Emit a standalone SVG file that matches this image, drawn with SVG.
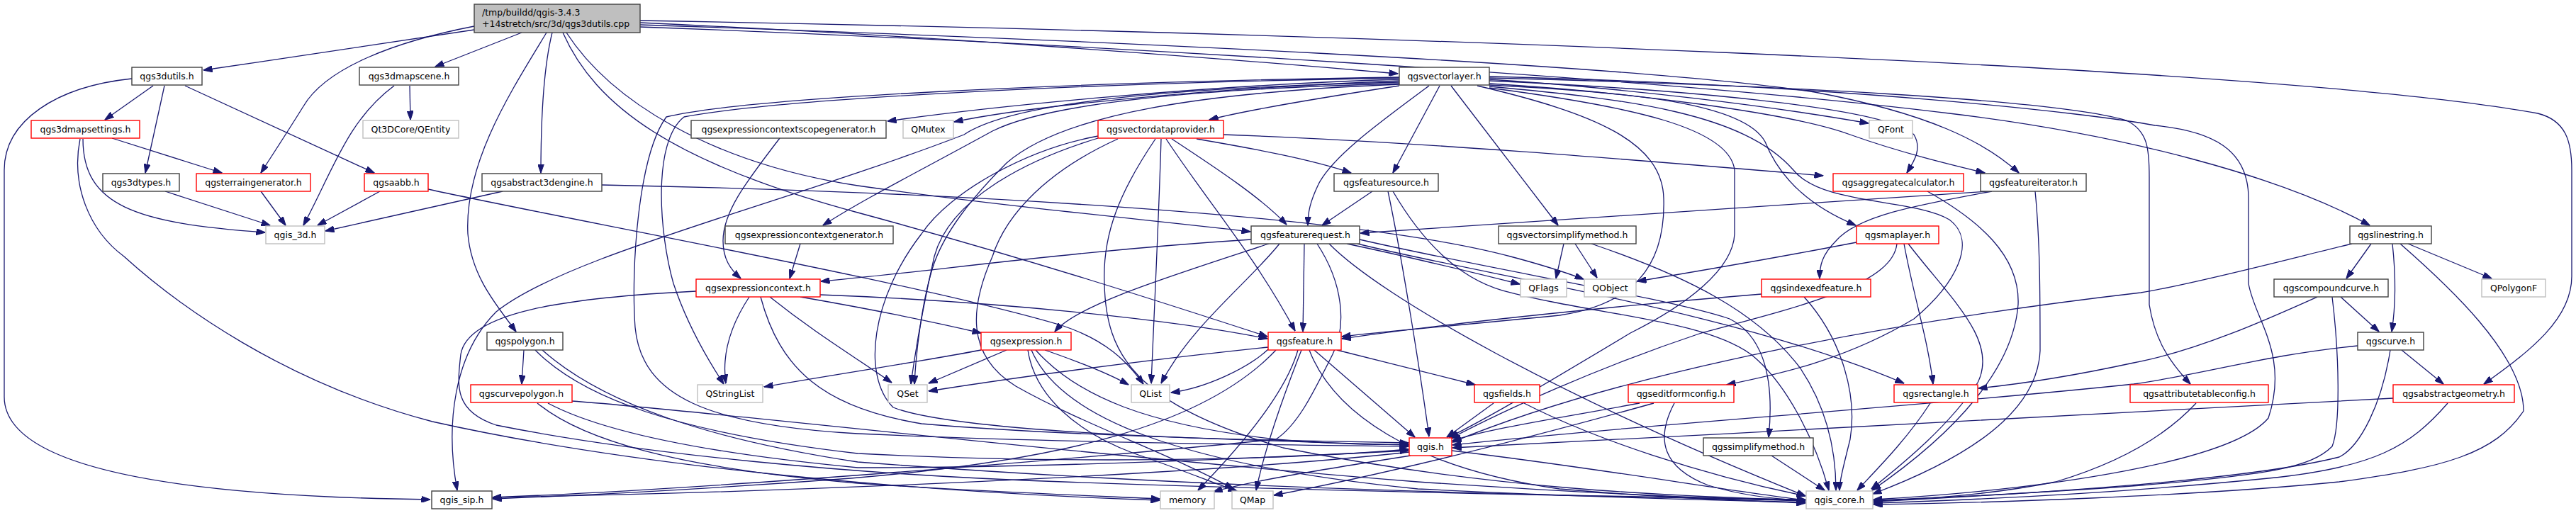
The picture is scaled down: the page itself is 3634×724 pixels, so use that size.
<svg xmlns="http://www.w3.org/2000/svg" width="3634" height="724" viewBox="0 0 3634 724">
<defs>
<marker id="ah" markerUnits="userSpaceOnUse" markerWidth="13" markerHeight="9" refX="12.5" refY="4.5" orient="auto">
<path d="M0,0 L13,4.5 L0,9 z" fill="#191970" stroke="#191970" stroke-width="1"/>
</marker>
<style>
.e{fill:none;stroke:#191970;stroke-width:1.3;marker-end:url(#ah)}
rect{stroke-width:1.4}
.b{fill:#fff;stroke:#404040}
.r{fill:#fff;stroke:#ff0000}
.g{fill:#fff;stroke:#bfbfbf}
.m{fill:#bfbfbf;stroke:#404040}
text{font-family:"DejaVu Sans","Liberation Sans",sans-serif;font-size:12.5px;fill:#000;text-anchor:middle}
text.l{text-anchor:start}
</style>
</defs>
<rect width="3634" height="724" fill="#fff"/>
<g id="edges">
<path class="e" d="M669,42 C560,58 420,80 287,99"/>
<path class="e" d="M669,37 C560,58 460,95 428,150 C400,195 382,222 368,244"/>
<path class="e" d="M736,46 L614,94"/>
<path class="e" d="M779,46 C768,90 763,160 763,244"/>
<path class="e" d="M771,46 C720,130 655,230 660,330 C665,390 700,430 728,468"/>
<path class="e" d="M799,46 C860,140 1000,230 1210,262 C1420,292 1620,310 1764,327"/>
<path class="e" d="M794,46 C840,150 950,230 1210,300 C1450,365 1650,430 1788,475"/>
<path class="e" d="M903,32 C1300,50 1700,80 1972,104"/>
<path class="e" d="M903,35 C1500,55 2300,90 2560,130 C2720,160 2800,200 2848,244"/>
<path class="e" d="M903,38 C1500,60 2350,110 2750,160 C3000,190 3220,250 3343,318"/>
<path class="e" d="M903,29 C1800,45 3200,90 3580,160 C3620,170 3628,200 3628,240 L3628,390 C3628,450 3570,495 3504,542"/>
<path class="e" d="M216,121 L148,169"/>
<path class="e" d="M232,121 L205,244"/>
<path class="e" d="M261,121 L528,244"/>
<path class="e" d="M186,111 C80,122 6,170 6,240 L6,560 C6,650 200,700 607,705"/>
<path class="e" d="M158,195 L313,244"/>
<path class="e" d="M117,196 C117,290 190,315 374,328"/>
<path class="e" d="M113,196 C100,260 125,325 175,362 C250,430 400,540 610,595 C900,660 1300,695 1636,706"/>
<path class="e" d="M233,270 L381,318"/>
<path class="e" d="M368,270 L403,318"/>
<path class="e" d="M556,121 C490,170 470,240 428,318"/>
<path class="e" d="M578,121 L579,169"/>
<path class="e" d="M536,270 L448,318"/>
<path class="e" d="M709,270 L459,326"/>
<path class="e" d="M604,267 C800,310 1300,400 1500,460 C1560,480 1590,510 1613,542"/>
<path class="e" d="M849,261 C1300,270 1900,300 2131,362 C2180,375 2210,385 2234,394"/>
<path class="e" d="M1974,112 C1700,120 1400,150 1252,171"/>
<path class="e" d="M1974,114 C1700,125 1450,150 1346,172"/>
<path class="e" d="M1974,121 C1850,140 1760,155 1706,169"/>
<path class="e" d="M1974,118 C1700,125 1480,145 1400,185 C1300,240 1220,280 1161,318"/>
<path class="e" d="M1974,116 C1600,125 1420,150 1360,190 C1100,290 800,360 700,440 C640,500 628,600 645,692"/>
<path class="e" d="M1974,110 C1500,118 1100,140 965,165 C920,200 930,330 950,400 C970,460 1000,510 1021,542"/>
<path class="e" d="M1974,109 C1500,116 1050,138 940,165 C900,220 890,380 896,462 C905,560 1000,600 1210,612 C1500,625 1800,628 1987,630"/>
<path class="e" d="M1974,119 C1700,130 1500,160 1420,230 C1370,280 1330,330 1315,380 C1300,430 1292,500 1290,542"/>
<path class="e" d="M2031,121 L1965,244"/>
<path class="e" d="M2016,121 C1950,170 1880,220 1860,260 C1848,285 1845,300 1845,318"/>
<path class="e" d="M2047,121 L2198,318"/>
<path class="e" d="M2084,121 C2250,160 2345,200 2347,280 C2350,380 2300,430 2200,445 C2050,460 1950,468 1893,475"/>
<path class="e" d="M2101,112 C2300,125 2500,150 2636,174"/>
<path class="e" d="M2101,114 C2350,125 2660,150 2700,190 C2712,210 2700,228 2690,244"/>
<path class="e" d="M2101,118 C2300,130 2530,160 2610,190 C2680,215 2750,232 2800,244"/>
<path class="e" d="M2101,120 C2300,130 2460,145 2490,200 C2510,250 2550,290 2618,318"/>
<path class="e" d="M2101,122 C2300,140 2460,160 2530,240 C2570,290 2700,280 2750,310 C2790,340 2760,400 2700,450 C2600,510 2500,530 2436,543"/>
<path class="e" d="M2101,124 C2300,150 2440,180 2447,240 L2447,330 C2445,380 2380,430 2300,470 C2200,530 2100,590 2044,617"/>
<path class="e" d="M2101,110 C2500,120 2900,140 3000,170 C3030,185 3032,210 3032,250 L3032,430 C3040,480 3060,510 3090,542"/>
<path class="e" d="M2101,108 C2600,120 2950,160 3040,177 C3120,185 3172,210 3172,280 L3172,400 C3180,450 3230,500 3200,590 C3150,650 2900,690 2643,705"/>
<path class="e" d="M1549,192 C1450,210 1340,270 1300,330 C1230,420 1215,530 1260,575 C1350,610 1700,620 1987,628"/>
<path class="e" d="M1549,195 C1450,225 1340,280 1318,362 C1305,420 1292,490 1285,542"/>
<path class="e" d="M1577,196 C1480,240 1420,300 1400,362 C1370,430 1360,500 1433,545 C1530,600 1650,640 1740,690"/>
<path class="e" d="M1638,196 C1635,300 1630,400 1624,541"/>
<path class="e" d="M1645,196 C1700,280 1770,360 1827,467"/>
<path class="e" d="M1653,196 C1720,240 1780,280 1815,317"/>
<path class="e" d="M1688,196 C1770,210 1850,225 1906,244"/>
<path class="e" d="M1726,190 C2000,200 2300,225 2572,248"/>
<path class="e" d="M1630,196 C1580,270 1555,330 1558,400 C1560,500 1600,570 1810,632 C2100,690 2350,700 2547,706"/>
<path class="e" d="M1936,270 L1865,318"/>
<path class="e" d="M1958,270 C1975,350 2000,500 2016,616"/>
<path class="e" d="M1965,270 C2000,330 2050,390 2120,410 C2250,445 2400,450 2470,500 C2520,540 2560,620 2580,692"/>
<path class="e" d="M1765,338 C1500,355 1300,385 1158,397"/>
<path class="e" d="M1790,344 C1650,390 1520,430 1488,468"/>
<path class="e" d="M1840,344 L1838,468"/>
<path class="e" d="M1805,344 C1760,400 1680,460 1638,541"/>
<path class="e" d="M1900,344 C2000,365 2080,385 2144,401"/>
<path class="e" d="M1918,338 C2100,380 2350,420 2440,450 C2480,470 2505,520 2495,617"/>
<path class="e" d="M1915,344 C2100,390 2450,440 2686,541"/>
<path class="e" d="M1875,344 C1950,420 2200,560 2547,700"/>
<path class="e" d="M1858,344 C1895,400 1900,460 1880,500 C1850,560 1830,600 1800,620 C1500,650 1000,690 695,702"/>
<path class="e" d="M1057,419 C1030,460 1018,500 1024,541"/>
<path class="e" d="M982,411 C800,420 660,440 650,500 C645,545 640,580 700,600 C900,640 1200,670 1500,680 C1900,695 2300,700 2547,707"/>
<path class="e" d="M1086,419 C1150,470 1200,500 1258,540"/>
<path class="e" d="M1157,416 C1400,425 1650,450 1788,478"/>
<path class="e" d="M1129,419 C1250,440 1320,455 1384,470"/>
<path class="e" d="M1073,419 C1100,520 1160,575 1300,598 C1500,615 1800,622 1987,625"/>
<path class="e" d="M1420,494 L1310,541"/>
<path class="e" d="M1384,494 C1300,510 1200,525 1078,546"/>
<path class="e" d="M1474,494 C1520,510 1560,525 1592,543"/>
<path class="e" d="M1450,494 C1460,560 1520,610 1600,640 C1660,660 1720,685 1745,693"/>
<path class="e" d="M1461,494 C1520,560 1620,600 1800,620 C1900,628 1950,628 1987,627"/>
<path class="e" d="M1455,494 C1500,600 1700,660 2000,690 C2300,705 2450,706 2547,709"/>
<path class="e" d="M1789,490 C1600,510 1450,530 1310,552"/>
<path class="e" d="M1789,493 C1760,520 1700,548 1652,554"/>
<path class="e" d="M1886,494 L2081,543"/>
<path class="e" d="M1854,494 L1996,617"/>
<path class="e" d="M1831,494 C1815,550 1760,620 1690,692"/>
<path class="e" d="M1836,494 C1810,560 1785,630 1772,692"/>
<path class="e" d="M1847,494 C1880,580 1990,660 2200,690 C2350,703 2450,706 2547,710"/>
<path class="e" d="M1800,494 C1700,600 1500,650 1200,675 C1000,690 800,700 695,704"/>
<path class="e" d="M2107,569 L2041,617"/>
<path class="e" d="M2150,569 C2250,620 2400,670 2547,700"/>
<path class="e" d="M2313,569 C2200,590 2100,605 2049,622"/>
<path class="e" d="M2333,569 C2150,620 1950,670 1797,699"/>
<path class="e" d="M2362,569 C2335,620 2345,660 2410,685 C2460,700 2510,705 2547,706"/>
<path class="e" d="M2723,569 C2690,620 2650,660 2620,692"/>
<path class="e" d="M2499,643 L2574,692"/>
<path class="e" d="M2048,636 C2250,660 2420,690 2547,706"/>
<path class="e" d="M1988,638 C1700,670 1100,695 695,702"/>
<path class="e" d="M1990,643 C1850,665 1760,680 1712,694"/>
<path class="e" d="M2485,415 C2300,430 2050,455 1893,478"/>
<path class="e" d="M2545,419 C2600,480 2620,560 2610,620 C2600,660 2595,680 2595,692"/>
<path class="e" d="M2206,344 L2195,393"/>
<path class="e" d="M2222,344 L2253,392"/>
<path class="e" d="M2245,344 C2380,390 2480,440 2540,520 C2580,580 2590,640 2590,692"/>
<path class="e" d="M2619,342 C2500,365 2400,382 2310,397"/>
<path class="e" d="M2676,344 C2670,400 2550,430 2400,470 C2250,520 2120,580 2046,619"/>
<path class="e" d="M2686,344 C2700,420 2720,480 2727,542"/>
<path class="e" d="M2692,344 C2750,420 2820,480 2790,540 C2750,600 2690,650 2640,690"/>
<path class="e" d="M2719,270 C2790,310 2850,360 2847,430 C2840,520 2760,610 2641,692"/>
<path class="e" d="M2804,270 C2500,290 2200,310 1919,329"/>
<path class="e" d="M2810,270 C2700,290 2620,305 2590,340 C2570,360 2567,375 2567,393"/>
<path class="e" d="M2871,270 C2878,340 2878,420 2878,495 C2875,560 2820,630 2642,697"/>
<path class="e" d="M3345,344 L3310,393"/>
<path class="e" d="M3375,344 C3380,390 3380,430 3374,468"/>
<path class="e" d="M3386,344 C3450,400 3560,500 3560,580 C3520,640 3450,660 3300,680 C3100,700 2800,710 2643,712"/>
<path class="e" d="M3397,344 L3515,393"/>
<path class="e" d="M3318,344 C3250,360 3100,400 3020,413 C2700,450 2300,520 2049,624"/>
<path class="e" d="M3302,419 L3356,468"/>
<path class="e" d="M3269,419 C3200,450 3100,495 3010,512 C2950,525 2870,540 2791,548"/>
<path class="e" d="M3290,419 C3300,500 3302,600 3290,630 C3260,660 3200,670 3020,685 C2850,698 2720,703 2643,706"/>
<path class="e" d="M3388,494 L3447,542"/>
<path class="e" d="M3326,488 C3200,500 3100,530 3010,542 C2700,575 2300,600 2049,628"/>
<path class="e" d="M3372,494 C3360,570 3330,630 3300,645 C3200,670 3000,690 2643,708"/>
<path class="e" d="M3376,562 C3000,580 2500,610 2049,632"/>
<path class="e" d="M3453,569 C3400,630 3350,660 3200,675 C3000,695 2800,705 2643,710"/>
<path class="e" d="M3098,569 C3060,610 3000,650 2900,680 C2800,700 2700,705 2643,707"/>
<path class="e" d="M739,494 L736,542"/>
<path class="e" d="M755,494 C820,560 950,610 1210,640 C1500,655 1800,650 1987,634"/>
<path class="e" d="M765,494 C850,570 1000,620 1210,652 C1700,690 2200,700 2547,705"/>
<path class="e" d="M807,566 C1000,580 1500,640 2000,680 C2300,700 2450,705 2547,706"/>
<path class="e" d="M773,569 C850,610 1000,640 1210,660 C1500,660 1800,645 1987,636"/>
<path class="e" d="M758,569 C820,620 950,660 1210,682 C1400,695 1550,700 1636,704"/>
<path class="e" d="M1129,344 L1114,393"/>
<path class="e" d="M1100,195 C1050,260 1020,300 1020,340 C1020,365 1030,380 1045,393"/>
</g>
<g id="n_main"><rect class="m" x="669" y="6" width="234" height="40"/><text class="l" x="680" y="22">/tmp/buildd/qgis-3.4.3</text><text class="l" x="680" y="38">+14stretch/src/3d/qgs3dutils.cpp</text></g>
<g id="n_qgs3dutils"><rect class="b" x="186" y="95" width="99" height="25"/><text x="235.5" y="112">qgs3dutils.h</text></g>
<g id="n_qgs3dmapscene"><rect class="b" x="507" y="95" width="140" height="25"/><text x="577" y="112">qgs3dmapscene.h</text></g>
<g id="n_qgsvectorlayer"><rect class="b" x="1974" y="95" width="127" height="25"/><text x="2037.5" y="112">qgsvectorlayer.h</text></g>
<g id="n_qgs3dmapsettings"><rect class="r" x="44" y="170" width="153" height="25"/><text x="120.5" y="187">qgs3dmapsettings.h</text></g>
<g id="n_qentity"><rect class="g" x="512" y="170" width="135" height="25"/><text x="579.5" y="187">Qt3DCore/QEntity</text></g>
<g id="n_scopegen"><rect class="b" x="975" y="170" width="275" height="25"/><text x="1112.5" y="187">qgsexpressioncontextscopegenerator.h</text></g>
<g id="n_qmutex"><rect class="g" x="1274" y="170" width="71" height="25"/><text x="1309.5" y="187">QMutex</text></g>
<g id="n_vdp"><rect class="r" x="1549" y="170" width="177" height="25"/><text x="1637.5" y="187">qgsvectordataprovider.h</text></g>
<g id="n_qfont"><rect class="g" x="2637" y="170" width="61" height="25"/><text x="2667.5" y="187">QFont</text></g>
<g id="n_qgs3dtypes"><rect class="b" x="145" y="245" width="108" height="25"/><text x="199" y="262">qgs3dtypes.h</text></g>
<g id="n_terrain"><rect class="r" x="277" y="245" width="161" height="25"/><text x="357.5" y="262">qgsterraingenerator.h</text></g>
<g id="n_aabb"><rect class="r" x="514" y="245" width="90" height="25"/><text x="559" y="262">qgsaabb.h</text></g>
<g id="n_engine"><rect class="b" x="680" y="245" width="169" height="25"/><text x="764.5" y="262">qgsabstract3dengine.h</text></g>
<g id="n_fsource"><rect class="b" x="1882" y="245" width="147" height="25"/><text x="1955.5" y="262">qgsfeaturesource.h</text></g>
<g id="n_aggcalc"><rect class="r" x="2586" y="245" width="184" height="25"/><text x="2678" y="262">qgsaggregatecalculator.h</text></g>
<g id="n_fiter"><rect class="b" x="2794" y="245" width="149" height="25"/><text x="2868.5" y="262">qgsfeatureiterator.h</text></g>
<g id="n_qgis3d"><rect class="g" x="375" y="319" width="83" height="25"/><text x="416.5" y="336">qgis_3d.h</text></g>
<g id="n_ctxgen"><rect class="b" x="1023" y="319" width="237" height="25"/><text x="1141.5" y="336">qgsexpressioncontextgenerator.h</text></g>
<g id="n_freq"><rect class="b" x="1765" y="319" width="153" height="25"/><text x="1841.5" y="336">qgsfeaturerequest.h</text></g>
<g id="n_vsm"><rect class="b" x="2114" y="319" width="194" height="25"/><text x="2211" y="336">qgsvectorsimplifymethod.h</text></g>
<g id="n_maplayer"><rect class="r" x="2619" y="319" width="116" height="25"/><text x="2677" y="336">qgsmaplayer.h</text></g>
<g id="n_linestring"><rect class="b" x="3315" y="319" width="115" height="25"/><text x="3372.5" y="336">qgslinestring.h</text></g>
<g id="n_ectx"><rect class="r" x="982" y="394" width="175" height="25"/><text x="1069.5" y="411">qgsexpressioncontext.h</text></g>
<g id="n_qflags"><rect class="g" x="2145" y="394" width="65" height="25"/><text x="2177.5" y="411">QFlags</text></g>
<g id="n_qobject"><rect class="g" x="2235" y="394" width="73" height="25"/><text x="2271.5" y="411">QObject</text></g>
<g id="n_indexed"><rect class="r" x="2485" y="394" width="154" height="25"/><text x="2562" y="411">qgsindexedfeature.h</text></g>
<g id="n_compound"><rect class="b" x="3208" y="394" width="161" height="25"/><text x="3288.5" y="411">qgscompoundcurve.h</text></g>
<g id="n_qpolygonf"><rect class="g" x="3501" y="394" width="90" height="25"/><text x="3546" y="411">QPolygonF</text></g>
<g id="n_polygon"><rect class="b" x="687" y="469" width="107" height="25"/><text x="740.5" y="486">qgspolygon.h</text></g>
<g id="n_expr"><rect class="r" x="1384" y="469" width="127" height="25"/><text x="1447.5" y="486">qgsexpression.h</text></g>
<g id="n_feature"><rect class="r" x="1789" y="469" width="103" height="25"/><text x="1840.5" y="486">qgsfeature.h</text></g>
<g id="n_curve"><rect class="b" x="3326" y="469" width="93" height="25"/><text x="3372.5" y="486">qgscurve.h</text></g>
<g id="n_curvepoly"><rect class="r" x="664" y="543" width="143" height="25"/><text x="735.5" y="560">qgscurvepolygon.h</text></g>
<g id="n_qstringlist"><rect class="g" x="984" y="543" width="92" height="25"/><text x="1030" y="560">QStringList</text></g>
<g id="n_qset"><rect class="g" x="1253" y="543" width="55" height="25"/><text x="1280.5" y="560">QSet</text></g>
<g id="n_qlist"><rect class="g" x="1596" y="543" width="54" height="25"/><text x="1623" y="560">QList</text></g>
<g id="n_fields"><rect class="r" x="2080" y="543" width="92" height="25"/><text x="2126" y="560">qgsfields.h</text></g>
<g id="n_editform"><rect class="r" x="2297" y="543" width="149" height="25"/><text x="2371.5" y="560">qgseditformconfig.h</text></g>
<g id="n_rect"><rect class="r" x="2672" y="543" width="118" height="25"/><text x="2731" y="560">qgsrectangle.h</text></g>
<g id="n_attrtable"><rect class="r" x="3005" y="543" width="195" height="25"/><text x="3102.5" y="560">qgsattributetableconfig.h</text></g>
<g id="n_absgeom"><rect class="r" x="3376" y="543" width="171" height="25"/><text x="3461.5" y="560">qgsabstractgeometry.h</text></g>
<g id="n_qgis"><rect class="r" x="1988" y="618" width="60" height="25"/><text x="2018" y="635">qgis.h</text></g>
<g id="n_simplify"><rect class="b" x="2403" y="618" width="155" height="25"/><text x="2480.5" y="635">qgssimplifymethod.h</text></g>
<g id="n_qgissip"><rect class="b" x="609" y="693" width="85" height="25"/><text x="651.5" y="710">qgis_sip.h</text></g>
<g id="n_memory"><rect class="g" x="1637" y="693" width="76" height="25"/><text x="1675" y="710">memory</text></g>
<g id="n_qmap"><rect class="g" x="1738" y="693" width="58" height="25"/><text x="1767" y="710">QMap</text></g>
<g id="n_qgiscore"><rect class="g" x="2548" y="693" width="94" height="25"/><text x="2595" y="710">qgis_core.h</text></g>
</svg>
